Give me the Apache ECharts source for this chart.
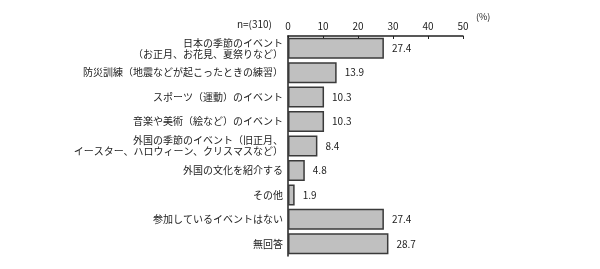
<!DOCTYPE html>
<html><head><meta charset="utf-8">
<script src="https://cdn.jsdelivr.net/npm/echarts@6/dist/echarts.min.js"></script>
<style>html,body{margin:0;padding:0;background:#fff}#c{width:600px;height:269px}</style>
</head><body><div id="c"></div>
<script>
const categories = [
  "日本の季節のイベント\n（お正月、お花見、夏祭りなど）",
  "防災訓練（地震などが起こったときの練習）",
  "スポーツ（運動）のイベント",
  "音楽や美術（絵など）のイベント",
  "外国の季節のイベント（旧正月、\nイースター、ハロウィーン、クリスマスなど）",
  "外国の文化を紹介する",
  "その他",
  "参加しているイベントはない",
  "無回答"
];
const values = [27.4, 13.9, 10.3, 10.3, 8.4, 4.8, 1.9, 27.4, 28.7];
const xTicks = [0, 10, 20, 30, 40, 50];
const sampleLabel = "n=(310)";
const unitLabel = "(%)";

const font = "'Noto Sans CJK JP', sans-serif";
const chart = echarts.init(document.getElementById('c'));
chart.setOption({
  animation: false,
  grid: { left: 288, width: 175, top: 36, bottom: 13 },
  xAxis: {
    type: 'value', position: 'top', min: xTicks[0], max: xTicks[xTicks.length-1], interval: 10,
    axisLine: { show: true, lineStyle: { color: '#222', width: 1.5 } },
    axisTick: { show: true, inside: true, length: 3, lineStyle: { color: '#222' } },
    axisLabel: { fontSize: 10, color: '#222', fontFamily: font, margin: 5 },
    splitLine: { show: false }
  },
  yAxis: {
    type: 'category', inverse: true, data: categories,
    axisLine: { show: true, lineStyle: { color: '#222', width: 1.5 } },
    axisTick: { show: false },
    axisLabel: { fontSize: 10, color: '#222', fontFamily: font, margin: 5, lineHeight: 11, align: 'right' }
  },
  series: [{
    type: 'bar', data: values, barCategoryGap: '14%',
    itemStyle: { color: '#c0c0c0', borderColor: '#3a3a3a', borderWidth: 1.5 },
    label: { show: true, position: 'right', distance: 8, fontSize: 10, color: '#222', fontFamily: font,
      formatter: p => p.value.toFixed(1) }
  }],
  graphic: [
    { type: 'text', right: 600-272, top: 19, style: { text: sampleLabel, fontSize: 10, fill: '#222', fontFamily: font } },
    { type: 'text', left: 476, top: 12, style: { text: unitLabel, fontSize: 9, fill: '#222', fontFamily: font } }
  ]
});
</script></body></html>
